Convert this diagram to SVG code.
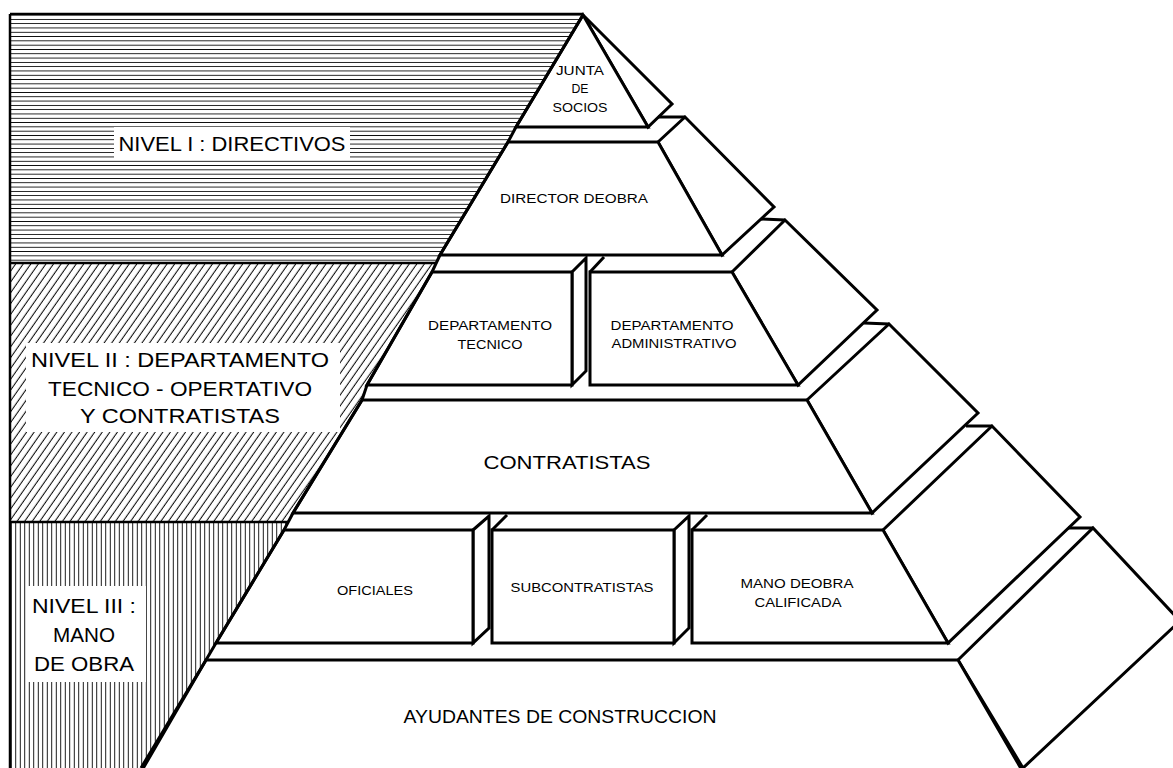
<svg xmlns="http://www.w3.org/2000/svg" width="1173" height="768" viewBox="0 0 1173 768">
<style>
.face{fill:#fff;stroke:#000;stroke-width:3;stroke-linejoin:miter}
.ln{fill:none;stroke:#000;stroke-width:3;stroke-linejoin:miter}
.border{fill:none;stroke:#000;stroke-width:2.5}
.hl{stroke:#000;stroke-width:1;shape-rendering:crispEdges}
.sm{font-family:"Liberation Sans",Arial,sans-serif;font-size:12.5px;fill:#000;text-anchor:middle}
.md{font-family:"Liberation Sans",Arial,sans-serif;font-size:18px;fill:#000;text-anchor:middle}
.lv{font-family:"Liberation Sans",Arial,sans-serif;font-size:21px;fill:#000;text-anchor:middle}
</style>
<defs>
<pattern id="hH" patternUnits="userSpaceOnUse" width="10" height="4.3"><line class="hl" x1="0" y1="2" x2="10" y2="2"/></pattern>
<pattern id="hD" patternUnits="userSpaceOnUse" width="6.2" height="10" patternTransform="rotate(35)"><line x1="3" y1="0" x2="3" y2="10" stroke="#000" stroke-width="1"/></pattern>
<pattern id="hV" patternUnits="userSpaceOnUse" width="4.5" height="10"><line class="hl" x1="2" y1="0" x2="2" y2="10"/></pattern>
<clipPath id="leftClip"><polygon points="10,14 583,14 516,127 508,142 440,255 432,272 367,385 362,400 293,513 284,530 216,643 206,660 141,768 10,768"/></clipPath>
</defs>
<rect width="1173" height="768" fill="#fff"/>

<g id="levels">
<g clip-path="url(#leftClip)">
<rect x="10" y="14" width="580" height="249" fill="url(#hH)"/>
<rect x="10" y="263" width="580" height="259" fill="url(#hD)"/>
<rect x="10" y="522" width="580" height="246" fill="url(#hV)"/>
<line x1="10" y1="263" x2="450" y2="263" class="border"/>
<line x1="10" y1="522" x2="300" y2="522" class="border"/>
</g>
<line x1="10" y1="14" x2="583" y2="14" class="border"/>
<line x1="10" y1="14" x2="10" y2="768" class="border"/>
<g id="nivel1">
<rect x="114" y="127" width="236" height="33" fill="#fff"/>
<text class="lv" x="232" y="150.5" textLength="227" lengthAdjust="spacingAndGlyphs">NIVEL I : DIRECTIVOS</text>
</g>
<g id="nivel2">
<rect x="26" y="343" width="314" height="89" fill="#fff"/>
<text class="lv" x="180" y="366.5" textLength="298" lengthAdjust="spacingAndGlyphs">NIVEL II : DEPARTAMENTO</text>
<text class="lv" x="180" y="395.5" textLength="264" lengthAdjust="spacingAndGlyphs">TECNICO - OPERTATIVO</text>
<text class="lv" x="180" y="423" textLength="200" lengthAdjust="spacingAndGlyphs">Y CONTRATISTAS</text>
</g>
<g id="nivel3">
<rect x="28" y="586" width="118" height="96" fill="#fff"/>
<text class="lv" x="84" y="612.5" textLength="104" lengthAdjust="spacingAndGlyphs">NIVEL III :</text>
<text class="lv" x="84" y="642" textLength="62" lengthAdjust="spacingAndGlyphs">MANO</text>
<text class="lv" x="84" y="670.5" textLength="100" lengthAdjust="spacingAndGlyphs">DE OBRA</text>
</g>
</g>

<g id="junta">
<polygon class="face" points="583,15 672,104 648,127"/>
<polygon class="face" points="583,15 648,127 516,127"/>
<text class="sm" x="580" y="75" textLength="48" lengthAdjust="spacingAndGlyphs">JUNTA</text>
<text class="sm" x="580" y="93" textLength="17" lengthAdjust="spacingAndGlyphs">DE</text>
<text class="sm" x="580" y="112" textLength="55" lengthAdjust="spacingAndGlyphs">SOCIOS</text>
</g>

<g id="director">
<polygon class="face" points="658,142 685,117 774,207 722,255"/>
<polygon class="face" points="508,142 658,142 722,255 440,255"/>
<text class="sm" x="574" y="203" textLength="148" lengthAdjust="spacingAndGlyphs">DIRECTOR DEOBRA</text>
</g>

<g id="departamentos">
<polygon class="face" points="732,272 785,220 877,310 798,385"/>
<g id="dep-tecnico">
<polygon class="face" points="572,272 586,258 586,371 572,385"/>
<polygon class="face" points="432,272 572,272 572,385 367,385"/>
<text class="sm" x="490" y="329.5" textLength="124" lengthAdjust="spacingAndGlyphs">DEPARTAMENTO</text>
<text class="sm" x="490" y="348.5" textLength="65" lengthAdjust="spacingAndGlyphs">TECNICO</text>
</g>
<g id="dep-admin">
<polygon class="face" points="590,272 732,272 798,385 590,385"/>
<line class="ln" x1="590" y1="272" x2="604" y2="257"/>
<text class="sm" x="672" y="329.5" textLength="123" lengthAdjust="spacingAndGlyphs">DEPARTAMENTO</text>
<text class="sm" x="674" y="348" textLength="125" lengthAdjust="spacingAndGlyphs">ADMINISTRATIVO</text>
</g>
</g>

<g id="contratistas">
<polygon class="face" points="807,400 889,324 978,413 872,513"/>
<polygon class="face" points="362,400 807,400 872,513 293,513"/>
<text class="md" x="567" y="469" textLength="167" lengthAdjust="spacingAndGlyphs">CONTRATISTAS</text>
</g>

<g id="nivel-operativo">
<polygon class="face" points="883,530 992,426 1080,517 948,643"/>
<g id="oficiales">
<polygon class="face" points="473,530 489,516 489,628 473,643"/>
<polygon class="face" points="284,530 473,530 473,643 216,643"/>
<text class="sm" x="375" y="594.5" textLength="76" lengthAdjust="spacingAndGlyphs">OFICIALES</text>
</g>
<g id="subcontratistas">
<polygon class="face" points="674,530 689,516 689,628 674,643"/>
<polygon class="face" points="492,530 674,530 674,643 492,643"/>
<line class="ln" x1="492" y1="530" x2="507" y2="515"/>
<text class="sm" x="582" y="591.5" textLength="143" lengthAdjust="spacingAndGlyphs">SUBCONTRATISTAS</text>
</g>
<g id="mano-calificada">
<polygon class="face" points="692,530 883,530 948,643 692,643"/>
<line class="ln" x1="692" y1="530" x2="707" y2="515"/>
<text class="sm" x="797" y="587.5" textLength="113" lengthAdjust="spacingAndGlyphs">MANO DEOBRA</text>
<text class="sm" x="798" y="606.5" textLength="87" lengthAdjust="spacingAndGlyphs">CALIFICADA</text>
</g>
</g>

<g id="ayudantes">
<polygon class="face" points="958,660 1093,528 1180,621 1023,768"/>
<polygon class="face" points="206,660 958,660 1023,772 141,772"/>
<text class="md" x="560" y="723" textLength="313" lengthAdjust="spacingAndGlyphs">AYUDANTES DE CONSTRUCCION</text>
</g>

<g id="connectors">
<polyline class="ln" points="658,117 685,117"/>
<polyline class="ln" points="761,219 785,220"/>
<polyline class="ln" points="864,323 889,324"/>
<polyline class="ln" points="966,426 992,426"/>
<polyline class="ln" points="1068,528 1093,528"/>
<polyline class="ln" points="583,15 516,127 508,142 440,255 432,272 367,385 362,400 293,513 284,530 216,643 206,660 141,768"/>
</g>
</svg>
